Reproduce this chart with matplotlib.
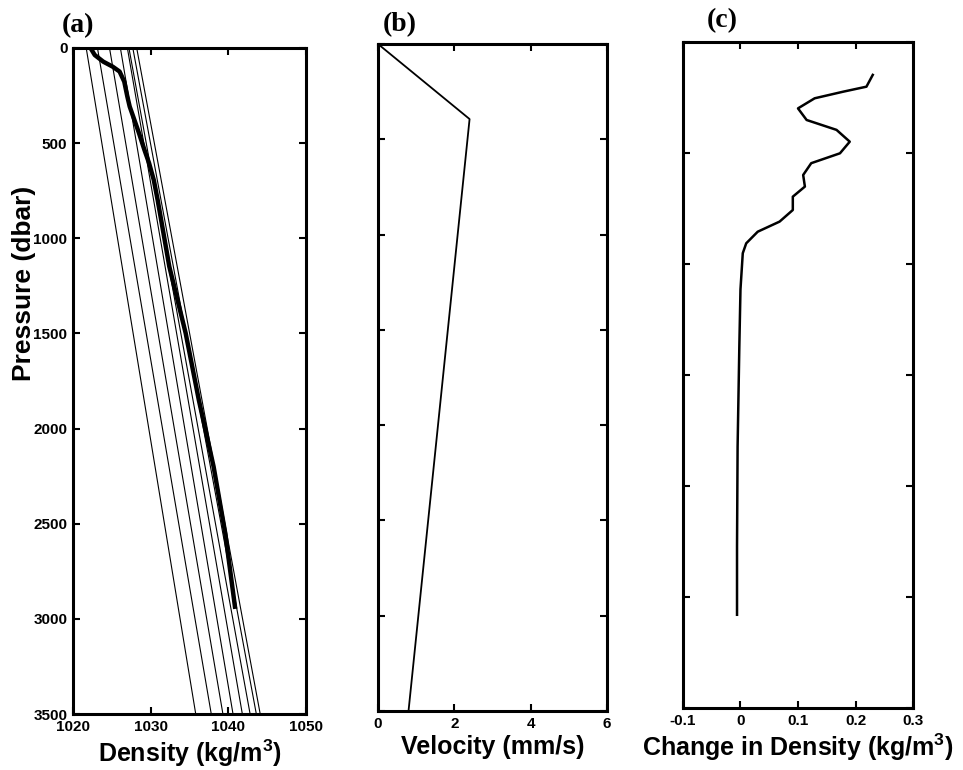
import numpy as np
import matplotlib.pyplot as plt

plt.rcParams['font.family'] = ['Liberation Sans', 'DejaVu Sans']
plt.rcParams['font.weight'] = 'bold'
plt.rcParams['mathtext.fontset'] = 'custom'
plt.rcParams['mathtext.bf'] = 'Liberation Sans:bold'
plt.rcParams['mathtext.rm'] = 'Liberation Sans:bold'
plt.rcParams['mathtext.default'] = 'bf'

# (a) isopycnal reference lines: density at 0 and 3500 dbar
iso_top = [1021.7, 1023.15, 1024.7, 1026.1, 1027.0, 1027.2, 1027.7, 1028.2]
iso_bot = [1035.8, 1037.8, 1039.3, 1040.6, 1041.8, 1042.8, 1043.6, 1044.1]
iso_p = [0, 3500]

# (a) measured density profile
dens_p = [10, 37, 72, 98, 124, 177, 256, 308, 378, 448, 536, 606, 694, 799,
          1149, 1498, 1850, 2200, 2550, 2936]
dens = [1022.4, 1022.8, 1023.9, 1025.1, 1026.0, 1026.6, 1027.0, 1027.3, 1027.9,
        1028.5, 1029.2, 1029.8, 1030.4, 1030.9, 1032.4, 1034.5, 1036.2, 1038.1,
        1039.6, 1040.85]

# (b) velocity profile
vel_p = [0, 394, 3500]
vel = [0.0, 2.4, 0.8]

# (c) change in density
dd_p = [173, 235, 261, 296, 349, 410, 462, 524, 585, 637, 699, 760, 813, 883,
        944, 997, 1058, 1110, 1300, 1601, 2127, 2652, 3010]
dd = [0.230, 0.219, 0.179, 0.129, 0.100, 0.115, 0.167, 0.190, 0.173, 0.123,
      0.109, 0.112, 0.091, 0.091, 0.068, 0.030, 0.010, 0.004, 0.000, -0.002,
      -0.005, -0.006, -0.006]

p_ticks = [0, 500, 1000, 1500, 2000, 2500, 3000, 3500]

fig = plt.figure(figsize=(9.63, 7.7), dpi=100)
ax_a = fig.add_axes([0.0758, 0.0727, 0.2420, 0.8650])
ax_b = fig.add_axes([0.3925, 0.0766, 0.2378, 0.8663])
ax_c = fig.add_axes([0.7092, 0.0805, 0.2389, 0.8650])

for ax in (ax_a, ax_b, ax_c):
    ax.set_ylim(3500, 0)
    for s in ax.spines.values():
        s.set_linewidth(2.2)
    ax.tick_params(direction='in', top=True, right=True, length=5, width=1.5,
                   labelsize=11, pad=4)

# panel (a)
for t, b in zip(iso_top, iso_bot):
    ax_a.plot([t, b], iso_p, color='black', lw=0.8)
ax_a.plot(dens, dens_p, color='black', lw=3.2)
ax_a.set_xlim(1020, 1050)
ax_a.set_xticks([1020, 1030, 1040, 1050])
ax_a.set_yticks(p_ticks)
ax_a.set_ylabel('Pressure (dbar)', fontsize=19, fontweight='bold')
ax_a.yaxis.set_label_coords(-0.16, 0.647)
ax_a.set_xlabel(r'Density (kg/m$^3$)', fontsize=18, fontweight='bold', labelpad=3)

# panel (b)
ax_b.plot(vel, vel_p, color='black', lw=1.3)
ax_b.set_xlim(0, 6)
ax_b.set_xticks([0, 2, 4, 6])
ax_b.set_yticks(p_ticks)
ax_b.set_yticklabels([])
ax_b.set_xlabel('Velocity (mm/s)', fontsize=18, fontweight='bold', labelpad=3)

# panel (c)
ax_c.plot(dd, dd_p, color='black', lw=1.8)
ax_c.set_xlim(-0.1, 0.3)
ax_c.set_xticks([-0.1, 0, 0.1, 0.2, 0.3])
ax_c.set_xticklabels(['-0.1', '0', '0.1', '0.2', '0.3'])
ax_c.set_yticks(np.linspace(0, 3500, 7))
ax_c.set_yticklabels([])
ax_c.set_xlabel(r'Change in Density (kg/m$^3$)', fontsize=18, fontweight='bold',
                labelpad=3)

for ax in (ax_a, ax_b, ax_c):
    for lab in ax.get_xticklabels() + ax.get_yticklabels():
        lab.set_fontweight('bold')

# panel letters
fig.text(62 / 963, 1 - 38 / 770, '(a)', fontsize=20, fontweight='bold',
         family='Liberation Serif', va='bottom', ha='left')
fig.text(383 / 963, 1 - 37 / 770, '(b)', fontsize=20, fontweight='bold',
         family='Liberation Serif', va='bottom', ha='left')
fig.text(707 / 963, 1 - 33 / 770, '(c)', fontsize=20, fontweight='bold',
         family='Liberation Serif', va='bottom', ha='left')

fig.savefig('out.png', dpi=100)
